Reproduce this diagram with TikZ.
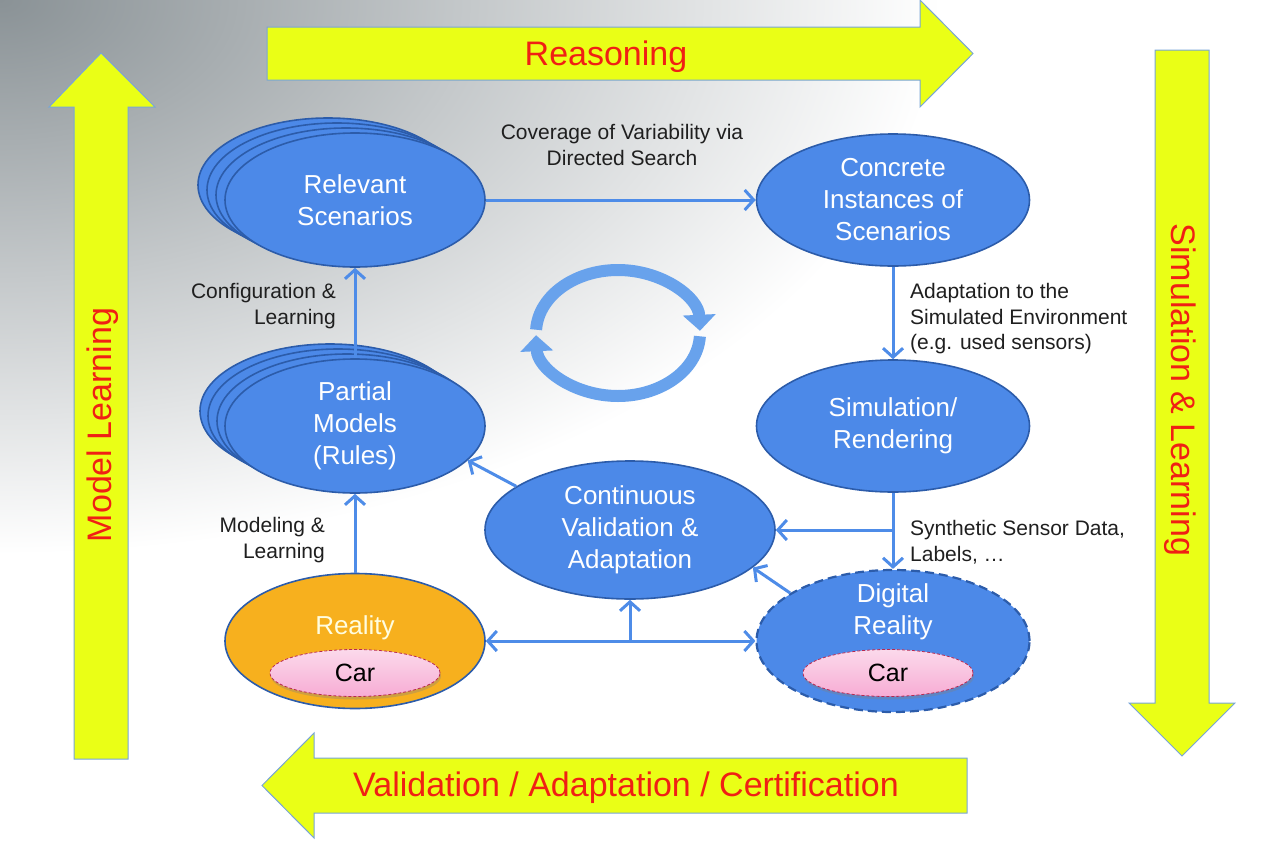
\documentclass[tikz,border=0pt]{standalone}
\usepackage{fontspec}
\setmainfont{Liberation Sans}
\usepackage{tikz}
\usetikzlibrary{shapes.geometric,arrows.meta,shadows,positioning}
\definecolor{scenblue}{RGB}{76,137,232}
\definecolor{scenedge}{RGB}{44,92,170}
\definecolor{linkblue}{RGB}{78,140,232}
\definecolor{cycblue}{RGB}{104,162,236}
\definecolor{bandyellow}{RGB}{234,255,22}
\definecolor{bandedge}{RGB}{120,165,215}
\definecolor{bandred}{RGB}{240,32,20}
\definecolor{realorange}{RGB}{247,176,30}
\definecolor{carpink}{RGB}{247,172,212}
\definecolor{caredge}{RGB}{185,40,80}
\definecolor{bggray}{RGB}{138,146,150}
\pgfdeclareradialshading{bgfade}{\pgfpoint{0bp}{0bp}}{color(0bp)=(bggray); color(21bp)=(white); color(50bp)=(white)}

\begin{document}
\begin{tikzpicture}[x=1pt, y=-1pt,
    >={Straight Barb[length=9pt,width=20pt]},
    scen/.style={ellipse, draw=scenedge, line width=1.6pt, fill=scenblue, text=white,
        inner sep=0pt, align=center, minimum width=260pt, minimum height=134pt,
        font=\fontsize{26}{32}\selectfont},
    car/.style={ellipse, draw=caredge, densely dashed, line width=0.8pt,
        top color=carpink!45, bottom color=carpink, inner sep=0pt,
        minimum width=170pt, minimum height=47pt, text=black,
        font=\fontsize{25}{30}\selectfont,
        drop shadow={opacity=0.35, shadow xshift=1pt, shadow yshift=-3pt}},
    conn/.style={draw=linkblue, line width=3pt, ->},
    lbl/.style={text=black!88, inner sep=0pt, font=\fontsize{21}{25.5}\selectfont},
    band/.style={fill=bandyellow, draw=bandedge, line width=1pt},
    bandtext/.style={text=bandred, font=\fontsize{34}{40}\selectfont},
    cycarrow/.style={draw=cycblue, line width=12pt, -{Triangle[length=16pt,width=32pt]}}]
    \useasboundingbox (0,0) rectangle (1280,846);
    \begin{scope}
        \clip (0,0) rectangle (1280,846);
        \shade[shading=bgfade] (0,0) ellipse [x radius=1120, y radius=660];
    \end{scope}

    \draw[band] (74,759) -- (74,107) -- (49,107) -- (101,53) -- (155,107) -- (128,107) -- (128,759) -- cycle;
    \draw[band] (267,27) -- (920,27) -- (920,0) -- (973,53.5) -- (920,107) -- (920,80) -- (267,80) -- cycle;
    \draw[band] (1155,50) -- (1209,50) -- (1209,703) -- (1235,703) -- (1182,756) -- (1129,703) -- (1155,703) -- cycle;
    \draw[band] (967,758) -- (967,813) -- (314,813) -- (314,838) -- (262,785.5) -- (314,733) -- (314,758) -- cycle;
    \node[bandtext] (reasoning) at (606,57) {Reasoning};
    \node[bandtext, rotate=90] (modellearning) at (103,425) {Model Learning};
    \node[bandtext, rotate=-90] (simlearning) at (1180,390) {Simulation \& Learning};
    \node[bandtext] (certification) at (626,788) {Validation / Adaptation / Certification};

    \node[scen] (relevant3) at (328,185) {};
    \node[scen] (relevant2) at (337,190) {};
    \node[scen] (relevant1) at (346,195) {};
    \node[scen] (relevant) at (355,200) {Relevant\\Scenarios};
    \node[scen] (partial3) at (330,411) {};
    \node[scen] (partial2) at (338,416) {};
    \node[scen] (partial1) at (347,421) {};
    \node[scen] (partial) at (355,426) {Partial\\Models\\(Rules)};
    \node[scen, minimum width=273pt, minimum height=132pt] (concrete) at (893,200) {Concrete\\Instances of\\Scenarios};
    \node[scen, minimum width=273pt, minimum height=132pt] (simulation) at (893,426) {Simulation/\\Rendering};
    \node[scen, minimum width=290pt, minimum height=138pt] (validation) at (630,530) {Continuous\\Validation \&\\Adaptation};
    \node[scen, fill=realorange, minimum height=135pt] (reality) at (355,641) {};
    \node[scen, dash pattern=on 9pt off 5pt, line width=2.2pt, minimum width=273pt, minimum height=142pt] (digital) at (893,641) {};
    \node[text=white!88!yellow, font=\fontsize{26}{32}\selectfont] (realitytext) at (355,628) {Reality};
    \node[text=white, align=center, font=\fontsize{26}{32}\selectfont] (digitaltext) at (893,612) {Digital\\Reality};
    \node[car] (realcar) at (355,673) {Car};
    \node[car] (digitalcar) at (888,673) {Car};

    \coordinate (split) at (893,530);
    \coordinate (meet) at (630,641);
    \draw[conn] (relevant) -- (concrete);
    \draw[conn] (partial) -- (relevant);
    \draw[conn] (concrete) -- (simulation);
    \draw[conn] (simulation) -- (digital);
    \draw[conn] (split) -- (validation);
    \draw[conn] (validation.159) -- (partial.-17);
    \draw[conn] (digital.155) -- (validation.-17);
    \draw[conn, <->] (reality) -- (digital);
    \draw[conn] (meet) -- (validation);
    \draw[conn] (reality) -- (partial);

    \node[lbl, align=center] (coverage) at (622,145) {Coverage of Variability via\\Directed Search};
    \node[lbl, align=right, anchor=east] (configlbl) at (336,306) {Configuration \&\\Learning};
    \node[lbl, align=left, anchor=west] (adaptlbl) at (910,319) {Adaptation to the\\Simulated Environment\\(e.g. used sensors)};
    \node[lbl, align=left, anchor=west] (synthlbl) at (910,542) {Synthetic Sensor Data,\\Labels, \dots};
    \node[lbl, align=right, anchor=east] (modellbl) at (325,540) {Modeling \&\\Learning};

    \draw[cycarrow] (618,333) ++(183:82 and 63) arc[start angle=183, end angle=358, x radius=82, y radius=63];
    \draw[cycarrow] (618,333) ++(3:82 and 63) arc[start angle=3, end angle=178, x radius=82, y radius=63];
\end{tikzpicture}
\end{document}
